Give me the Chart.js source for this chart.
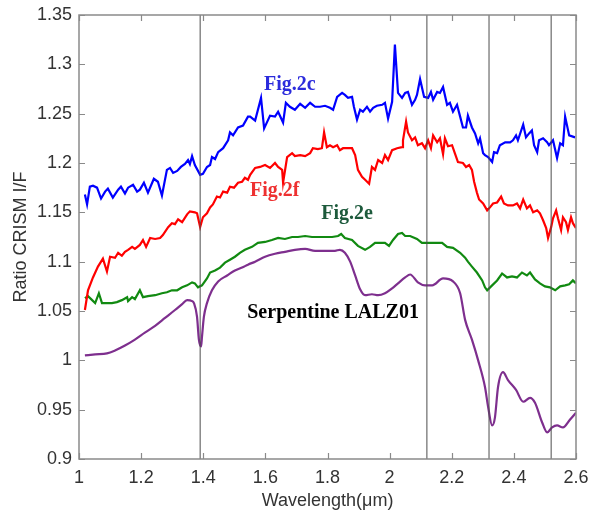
<!DOCTYPE html>
<html>
<head>
<meta charset="utf-8">
<script src="https://cdn.jsdelivr.net/npm/chart.js@4.4.1/dist/chart.umd.min.js"></script>
<style>
  html, body { margin: 0; padding: 0; background: #fff; }
  #wrap { width: 590px; height: 512px; }
</style>
</head>
<body>
<div id="wrap"><canvas id="ratioChart" width="590" height="512"></canvas></div>
<script>
// wavelength (um) / ratio values
const wlFig2c = [1.019,1.026,1.035,1.045,1.058,1.071,1.084,1.093,1.109,1.126,1.135,1.148,1.158,1.174,1.187,1.196,1.209,1.222,1.241,1.254,1.267,1.283,1.293,1.303,1.316,1.328,1.341,1.351,1.357,1.364,1.373,1.390,1.399,1.412,1.422,1.428,1.438,1.448,1.464,1.480,1.486,1.496,1.512,1.528,1.544,1.551,1.567,1.586,1.596,1.615,1.631,1.641,1.657,1.666,1.679,1.695,1.712,1.728,1.744,1.760,1.776,1.792,1.808,1.818,1.831,1.847,1.856,1.866,1.879,1.885,1.895,1.905,1.914,1.927,1.937,1.947,1.959,1.976,1.985,1.995,2.008,2.017,2.027,2.040,2.050,2.059,2.072,2.082,2.088,2.098,2.111,2.124,2.133,2.140,2.153,2.162,2.172,2.185,2.194,2.204,2.217,2.227,2.236,2.246,2.252,2.265,2.275,2.285,2.291,2.301,2.307,2.317,2.330,2.336,2.346,2.355,2.372,2.388,2.397,2.407,2.413,2.430,2.439,2.449,2.458,2.465,2.475,2.481,2.494,2.507,2.513,2.526,2.539,2.549,2.558,2.565,2.578,2.597];
const fig2c = [1.168,1.158,1.176,1.177,1.175,1.164,1.171,1.174,1.165,1.173,1.176,1.169,1.175,1.178,1.171,1.173,1.180,1.170,1.184,1.181,1.167,1.193,1.195,1.190,1.192,1.196,1.199,1.203,1.199,1.207,1.198,1.188,1.189,1.196,1.198,1.206,1.204,1.211,1.215,1.223,1.231,1.228,1.236,1.238,1.247,1.247,1.243,1.266,1.235,1.248,1.247,1.252,1.241,1.261,1.257,1.254,1.260,1.256,1.261,1.257,1.257,1.258,1.256,1.254,1.267,1.271,1.269,1.266,1.267,1.257,1.244,1.254,1.252,1.257,1.252,1.256,1.258,1.259,1.261,1.245,1.262,1.320,1.271,1.266,1.271,1.272,1.259,1.264,1.269,1.285,1.267,1.266,1.272,1.264,1.272,1.271,1.277,1.259,1.261,1.252,1.259,1.247,1.236,1.236,1.248,1.236,1.230,1.220,1.225,1.210,1.208,1.206,1.201,1.211,1.210,1.218,1.221,1.221,1.223,1.228,1.223,1.239,1.226,1.230,1.233,1.218,1.211,1.223,1.225,1.221,1.218,1.223,1.205,1.220,1.218,1.247,1.228,1.226];

const wlFig2f = [1.019,1.029,1.045,1.061,1.077,1.090,1.100,1.116,1.126,1.138,1.148,1.158,1.171,1.180,1.196,1.206,1.216,1.229,1.245,1.261,1.270,1.287,1.299,1.309,1.319,1.332,1.348,1.357,1.373,1.380,1.390,1.399,1.412,1.422,1.431,1.444,1.454,1.464,1.477,1.486,1.499,1.512,1.525,1.534,1.544,1.551,1.567,1.583,1.599,1.615,1.631,1.641,1.654,1.657,1.670,1.686,1.695,1.712,1.728,1.744,1.753,1.769,1.782,1.789,1.798,1.808,1.818,1.831,1.840,1.850,1.866,1.879,1.889,1.898,1.911,1.921,1.934,1.943,1.953,1.963,1.976,1.985,1.995,2.008,2.024,2.040,2.043,2.053,2.059,2.072,2.082,2.091,2.104,2.114,2.124,2.133,2.140,2.153,2.162,2.172,2.178,2.188,2.201,2.211,2.220,2.236,2.246,2.256,2.265,2.272,2.281,2.288,2.301,2.314,2.323,2.333,2.346,2.359,2.368,2.381,2.397,2.410,2.420,2.430,2.442,2.452,2.462,2.475,2.484,2.494,2.504,2.510,2.520,2.526,2.536,2.542,2.552,2.558,2.568,2.574,2.584,2.590,2.600];
const fig2f = [1.051,1.071,1.084,1.095,1.103,1.090,1.105,1.104,1.109,1.106,1.110,1.112,1.115,1.113,1.117,1.122,1.115,1.124,1.123,1.124,1.127,1.135,1.139,1.138,1.143,1.140,1.148,1.151,1.150,1.149,1.135,1.145,1.149,1.155,1.158,1.166,1.165,1.171,1.170,1.176,1.175,1.180,1.181,1.185,1.183,1.188,1.195,1.196,1.198,1.195,1.200,1.196,1.193,1.180,1.206,1.210,1.207,1.208,1.207,1.210,1.215,1.214,1.215,1.231,1.216,1.218,1.216,1.218,1.213,1.215,1.215,1.215,1.208,1.193,1.186,1.183,1.179,1.196,1.193,1.203,1.200,1.208,1.203,1.213,1.215,1.216,1.223,1.242,1.231,1.223,1.226,1.218,1.220,1.215,1.223,1.215,1.228,1.221,1.225,1.209,1.225,1.217,1.218,1.209,1.201,1.200,1.196,1.198,1.193,1.181,1.170,1.163,1.159,1.152,1.155,1.159,1.160,1.166,1.159,1.157,1.157,1.159,1.154,1.163,1.154,1.157,1.150,1.152,1.149,1.142,1.134,1.124,1.135,1.144,1.152,1.144,1.132,1.145,1.140,1.132,1.145,1.139,1.134];

const wlFig2e = [1.019,1.029,1.039,1.052,1.064,1.074,1.090,1.106,1.122,1.138,1.155,1.158,1.171,1.180,1.196,1.206,1.222,1.245,1.267,1.283,1.299,1.316,1.332,1.348,1.364,1.373,1.383,1.396,1.412,1.422,1.438,1.454,1.470,1.486,1.502,1.518,1.534,1.557,1.576,1.599,1.621,1.641,1.663,1.686,1.705,1.728,1.750,1.769,1.792,1.815,1.834,1.844,1.856,1.879,1.898,1.921,1.937,1.953,1.969,1.985,1.998,2.011,2.027,2.040,2.050,2.066,2.088,2.104,2.124,2.146,2.169,2.185,2.204,2.227,2.243,2.252,2.265,2.281,2.298,2.307,2.314,2.330,2.346,2.362,2.378,2.394,2.410,2.426,2.442,2.452,2.468,2.484,2.500,2.516,2.533,2.549,2.565,2.578,2.590,2.600];
const fig2e = [1.063,1.065,1.062,1.058,1.068,1.058,1.058,1.058,1.059,1.061,1.064,1.060,1.064,1.062,1.071,1.064,1.065,1.066,1.068,1.069,1.071,1.071,1.074,1.076,1.079,1.078,1.074,1.076,1.083,1.089,1.091,1.094,1.099,1.102,1.105,1.109,1.112,1.115,1.119,1.120,1.122,1.124,1.123,1.125,1.125,1.126,1.125,1.125,1.125,1.125,1.126,1.128,1.124,1.122,1.116,1.112,1.115,1.119,1.119,1.119,1.116,1.122,1.128,1.129,1.126,1.126,1.123,1.119,1.119,1.119,1.119,1.115,1.114,1.109,1.104,1.100,1.095,1.089,1.081,1.074,1.071,1.076,1.081,1.088,1.084,1.085,1.084,1.089,1.086,1.089,1.082,1.078,1.075,1.074,1.071,1.075,1.076,1.077,1.081,1.078];

const wlSerp = [1.019,1.052,1.090,1.116,1.148,1.180,1.212,1.245,1.277,1.309,1.332,1.348,1.364,1.370,1.380,1.386,1.393,1.396,1.402,1.412,1.428,1.448,1.477,1.502,1.525,1.544,1.567,1.599,1.631,1.663,1.695,1.728,1.760,1.792,1.824,1.840,1.856,1.873,1.889,1.905,1.921,1.943,1.963,1.985,2.008,2.027,2.050,2.066,2.091,2.114,2.137,2.172,2.204,2.227,2.243,2.265,2.285,2.307,2.317,2.330,2.339,2.349,2.365,2.381,2.407,2.430,2.452,2.468,2.491,2.507,2.523,2.539,2.558,2.581,2.600];
const serpentine = [1.005,1.006,1.007,1.010,1.015,1.021,1.028,1.035,1.043,1.051,1.057,1.061,1.060,1.058,1.044,1.021,1.014,1.024,1.044,1.058,1.071,1.080,1.086,1.091,1.094,1.097,1.100,1.105,1.108,1.110,1.112,1.113,1.111,1.111,1.111,1.112,1.109,1.100,1.086,1.072,1.066,1.067,1.066,1.068,1.073,1.078,1.084,1.087,1.079,1.076,1.076,1.083,1.080,1.068,1.041,1.021,1.000,0.973,0.953,0.934,0.942,0.973,0.988,0.980,0.970,0.958,0.962,0.957,0.937,0.927,0.932,0.934,0.932,0.940,0.947];

// absorption band positions (vertical lines)
const bandLines = [1.39, 2.12, 2.32, 2.52];

const xMin = 1, xMax = 2.6, yMin = 0.9, yMax = 1.35;

// curve labels, in data coordinates
const curveLabels = [
    { text: 'Fig.2c', x: 1.679, y: 1.279, color: '#2b2bdc' },
    { text: 'Fig.2f', x: 1.630, y: 1.172, color: '#ee3030' },
    { text: 'Fig.2e', x: 1.863, y: 1.148, color: '#1d5a3c' },
    { text: 'Serpentine LALZ01', x: 1.818, y: 1.048, color: '#000000' }
];

function toPoints(xs, ys) {
    return xs.map((x, i) => ({ x: x, y: ys[i] }));
}

const bandSets = bandLines.map(b => ({
    data: [{ x: b, y: yMin }, { x: b, y: yMax }],
    borderColor: '#4d4d4d',
    borderWidth: 1,
    pointRadius: 0
}));

const curveSets = [
    { label: 'Fig.2c', data: toPoints(wlFig2c, fig2c), borderColor: '#0000ff' },
    { label: 'Fig.2f', data: toPoints(wlFig2f, fig2f), borderColor: '#ff0000' },
    { label: 'Fig.2e', data: toPoints(wlFig2e, fig2e), borderColor: '#118a11' },
    { label: 'Serpentine LALZ01', data: toPoints(wlSerp, serpentine), borderColor: '#7e2f8e', cubicInterpolationMode: 'monotone' }
].map(d => Object.assign({ borderWidth: 2.2, pointRadius: 0, tension: 0 }, d));

// matlab style box with inward ticks, plus text labels
const boxPlugin = {
    id: 'boxPlugin',
    afterDatasetsDraw(chart) {
        const ctx = chart.ctx;
        const a = chart.chartArea;
        const xs = chart.scales.x, ys = chart.scales.y;
        ctx.save();
        ctx.strokeStyle = '#8a8a8a';
        ctx.lineWidth = 1.2;
        ctx.beginPath();
        xs.ticks.forEach(t => {
            const px = Math.round(xs.getPixelForValue(t.value)) + 0.5;
            ctx.moveTo(px, a.bottom); ctx.lineTo(px, a.bottom - 6);
            ctx.moveTo(px, a.top); ctx.lineTo(px, a.top + 6);
        });
        ys.ticks.forEach(t => {
            const py = Math.round(ys.getPixelForValue(t.value)) + 0.5;
            ctx.moveTo(a.left, py); ctx.lineTo(a.left + 6, py);
            ctx.moveTo(a.right, py); ctx.lineTo(a.right - 6, py);
        });
        ctx.stroke();
        ctx.lineWidth = 1.5;
        ctx.strokeRect(a.left, a.top, a.right - a.left, a.bottom - a.top);

        ctx.font = 'bold 20px "Liberation Serif", "Times New Roman", serif';
        ctx.textAlign = 'center';
        ctx.textBaseline = 'middle';
        curveLabels.forEach(l => {
            ctx.fillStyle = l.color;
            ctx.fillText(l.text, xs.getPixelForValue(l.x), ys.getPixelForValue(l.y));
        });
        ctx.restore();
    }
};

const tickFont = { family: '"Liberation Sans", Arial, sans-serif', size: 18 };

const config = {
    type: 'line',
    data: { datasets: bandSets.concat(curveSets) },
    options: {
        responsive: false,
        animation: false,
        layout: { padding: { left: 0, right: 14, top: 15, bottom: 0 } },
        plugins: {
            legend: { display: false },
            tooltip: { enabled: false }
        },
        scales: {
            x: {
                type: 'linear',
                min: xMin,
                max: xMax,
                grid: { display: false, drawTicks: false },
                border: { display: false },
                ticks: {
                    stepSize: 0.2,
                    padding: 8,
                    color: '#333',
                    font: tickFont,
                    maxRotation: 0,
                    callback: v => String(Number(v.toFixed(2)))
                },
                title: {
                    display: true,
                    text: 'Wavelength(μm)',
                    color: '#333',
                    font: tickFont,
                    padding: { top: 0, bottom: 0 }
                },
                afterFit: s => { s.height = 53; s.paddingLeft = 0; s.paddingRight = 0; }
            },
            y: {
                min: yMin,
                max: yMax,
                grid: { display: false, drawTicks: false },
                border: { display: false },
                ticks: {
                    stepSize: 0.05,
                    padding: 7,
                    color: '#333',
                    font: tickFont,
                    callback: v => String(Number(v.toFixed(2)))
                },
                title: {
                    display: true,
                    text: 'Ratio CRISM I/F',
                    color: '#333',
                    font: tickFont,
                    padding: { top: 10, bottom: 0 }
                },
                afterFit: s => { s.width = 79; s.paddingTop = 0; s.paddingBottom = 0; }
            }
        }
    },
    plugins: [boxPlugin]
};

new Chart(document.getElementById('ratioChart'), config);
</script>
</body>
</html>
